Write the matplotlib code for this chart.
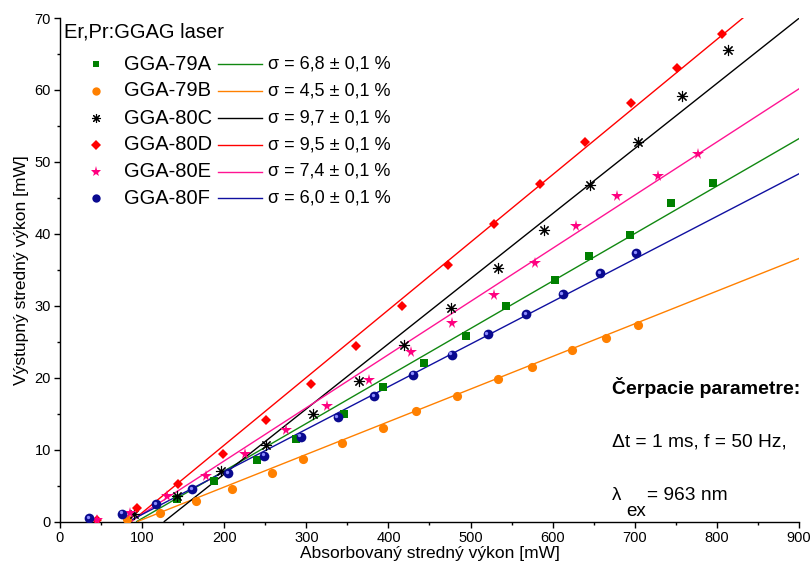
import numpy as np
import matplotlib
matplotlib.use("Agg")
import matplotlib.pyplot as plt
from matplotlib.transforms import ScaledTranslation

plt.rcParams['font.family'] = ['Liberation Sans', 'DejaVu Sans']

# ---------------- data ----------------
names = ["GGA-79A", "GGA-79B", "GGA-80C", "GGA-80D", "GGA-80E", "GGA-80F"]
sigma_labels = ["σ = 6,8 ± 0,1 %", "σ = 4,5 ± 0,1 %", "σ = 9,7 ± 0,1 %",
                "σ = 9,5 ± 0,1 %", "σ = 7,4 ± 0,1 %", "σ = 6,0 ± 0,1 %"]

x_79A = [142, 187, 240, 287, 346, 393, 443, 494, 543, 603, 644, 694, 744, 795]
y_79A = [3.1, 5.6, 8.5, 11.5, 14.95, 18.7, 22.0, 25.8, 30.0, 33.6, 36.9, 39.85, 44.25, 47.0]

x_79B = [81, 122, 166, 210, 258, 296, 344, 393, 433.5, 483, 533, 574.5, 624, 665, 704]
y_79B = [0.35, 1.2, 2.85, 4.5, 6.7, 8.7, 10.9, 13.0, 15.4, 17.5, 19.8, 21.45, 23.8, 25.5, 27.3]

x_80C = [90, 143, 196, 250.5, 308, 364, 419, 476, 533, 589.5, 645.5, 703.5, 758, 813]
y_80C = [1.1, 3.5, 7.0, 10.7, 14.9, 19.5, 24.5, 29.65, 35.2, 40.5, 46.8, 52.7, 59.2, 65.5]

x_80D = [45, 94, 144, 198, 250.5, 305.7, 360, 417, 472.5, 529, 584.6, 639, 696, 751, 806]
y_80D = [0.2, 1.9, 5.2, 9.4, 14.1, 19.1, 24.45, 30.0, 35.7, 41.3, 46.9, 52.8, 58.2, 63.1, 67.8]

x_80E = [45, 85, 130, 178, 225, 275, 325.5, 376, 427, 478, 528.6, 578.5, 629, 678, 728, 777]
y_80E = [0.2, 1.2, 3.5, 6.3, 9.4, 12.7, 16.1, 19.7, 23.5, 27.6, 31.5, 36.0, 41.1, 45.2, 48.1, 51.1]

x_80F = [35.3, 75.5, 117, 161, 205, 248.5, 293, 338, 383, 430, 477, 521, 567.5, 612, 657.6, 701.5]
y_80F = [0.5, 1.1, 2.4, 4.5, 6.75, 9.15, 11.8, 14.5, 17.45, 20.4, 23.2, 26.0, 28.8, 31.6, 34.5, 37.3]

# linear fits: slope [mW/mW] and threshold [mW]
fit_slope = [0.0660, 0.0454, 0.0905, 0.0940, 0.0739, 0.0592]
fit_thresh = [93.5, 94.5, 127.0, 87.0, 86.0, 83.4]

xs = [x_79A, x_79B, x_80C, x_80D, x_80E, x_80F]
ys = [y_79A, y_79B, y_80C, y_80D, y_80E, y_80F]

x_ticks = [0, 100, 200, 300, 400, 500, 600, 700, 800, 900]
y_ticks = [0, 10, 20, 30, 40, 50, 60, 70]

# ---------------- style ----------------
line_colors = ['#118811', '#ff8000', '#000000', '#ff0000', '#ff1493', '#1010a0']
mark_colors = ['#008000', '#ff8000', '#000000', '#ff0000', '#ff007f', '#0a0a90']
markers = ['s', 'o', (8, 2, 0), 'D', '*', 'o']
msizes = [5.8, 6.6, 8.0, 5.4, 8.5, 7.0]

W, H = 812, 568
fig = plt.figure(figsize=(W / 100, H / 100), dpi=100)
L, R, B, T = 60, 799, 521.5, 18
ax = fig.add_axes([L / W, 1 - B / H, (R - L) / W, (B - T) / H])

for i in range(6):
    x0 = fit_thresh[i]
    xl = np.array([x0, 900.0])
    ax.plot(xl, fit_slope[i] * (xl - x0), color=line_colors[i], lw=1.0, zorder=2)

for i in range(6):
    mk = markers[i]
    if i == 2:
        ax.plot(xs[i], ys[i], linestyle='none', marker=mk, ms=msizes[i],
                markeredgecolor='black', markeredgewidth=0.8, zorder=3 + i)
    else:
        ax.plot(xs[i], ys[i], linestyle='none', marker=mk, ms=msizes[i],
                color=mark_colors[i], markeredgewidth=0, zorder=3 + i)
    if i == 5:
        off = ScaledTranslation(-1.4 / 100, 1.4 / 100, fig.dpi_scale_trans)
        ax.plot(xs[i], ys[i], linestyle='none', marker='o', ms=2.4,
                color='#8c8cff', markeredgewidth=0, zorder=3 + i,
                transform=ax.transData + off)

ax.set_xlim(0, 900)
ax.set_ylim(0, 70)
ax.set_xticks(x_ticks)
ax.set_yticks(y_ticks)
ax.set_xticks(np.arange(50, 900, 100), minor=True)
ax.set_yticks(np.arange(5, 70, 10), minor=True)
for s in ['top', 'right']:
    ax.spines[s].set_visible(False)
for s in ['left', 'bottom']:
    ax.spines[s].set_linewidth(1.0)
ax.tick_params(which='major', direction='out', length=4.5, width=1.0,
               labelsize=10.5, pad=2)
ax.tick_params(which='minor', direction='out', length=2.5, width=1.0)

ax.set_xlabel("Absorbovaný stredný výkon [mW]", fontsize=12.5, labelpad=1)
ax.set_ylabel("Výstupný stredný výkon [mW]", fontsize=12.5, labelpad=4)

# ---------------- legend (drawn manually) ----------------
def fx(px):
    return px / W

def fy(py):
    return 1 - py / H

fig.text(fx(64), fy(31.5), "Er,Pr:GGAG laser", fontsize=14.5, va='center', ha='left')
row_y = [64, 91, 118, 145, 171.5, 198]
leg_ms = [5.0, 6.0, 6.5, 5.0, 8.0, 6.0]
for i in range(6):
    yy = fy(row_y[i])
    if i == 2:
        fig.lines.append(plt.Line2D([fx(96)], [yy], marker=markers[i], ms=leg_ms[i],
                                    markeredgecolor='black', markeredgewidth=0.8,
                                    linestyle='none', transform=fig.transFigure))
    else:
        fig.lines.append(plt.Line2D([fx(96)], [yy], marker=markers[i], ms=leg_ms[i],
                                    color=mark_colors[i], markeredgewidth=0,
                                    linestyle='none', transform=fig.transFigure))
    fig.text(fx(124), yy, names[i], fontsize=14.5, va='center', ha='left')
    fig.lines.append(plt.Line2D([fx(218), fx(262)], [yy, yy], color=line_colors[i],
                                lw=1.0, transform=fig.transFigure))
    fig.text(fx(268), yy, sigma_labels[i], fontsize=13, va='center', ha='left')

# ---------------- pump parameters ----------------
fig.text(fx(612), fy(388), "Čerpacie parametre:", fontsize=14, fontweight='bold',
         va='center', ha='left')
fig.text(fx(612), fy(442), "Δt = 1 ms, f = 50 Hz,", fontsize=13.8, va='center', ha='left')
fig.text(fx(612), fy(496), "λ", fontsize=13.5, va='center', ha='left')
fig.text(fx(626), fy(512), "ex", fontsize=13.5, va='center', ha='left')
fig.text(fx(647), fy(496), "= 963 nm", fontsize=13.8, va='center', ha='left')

fig.savefig("out.png", dpi=100)
